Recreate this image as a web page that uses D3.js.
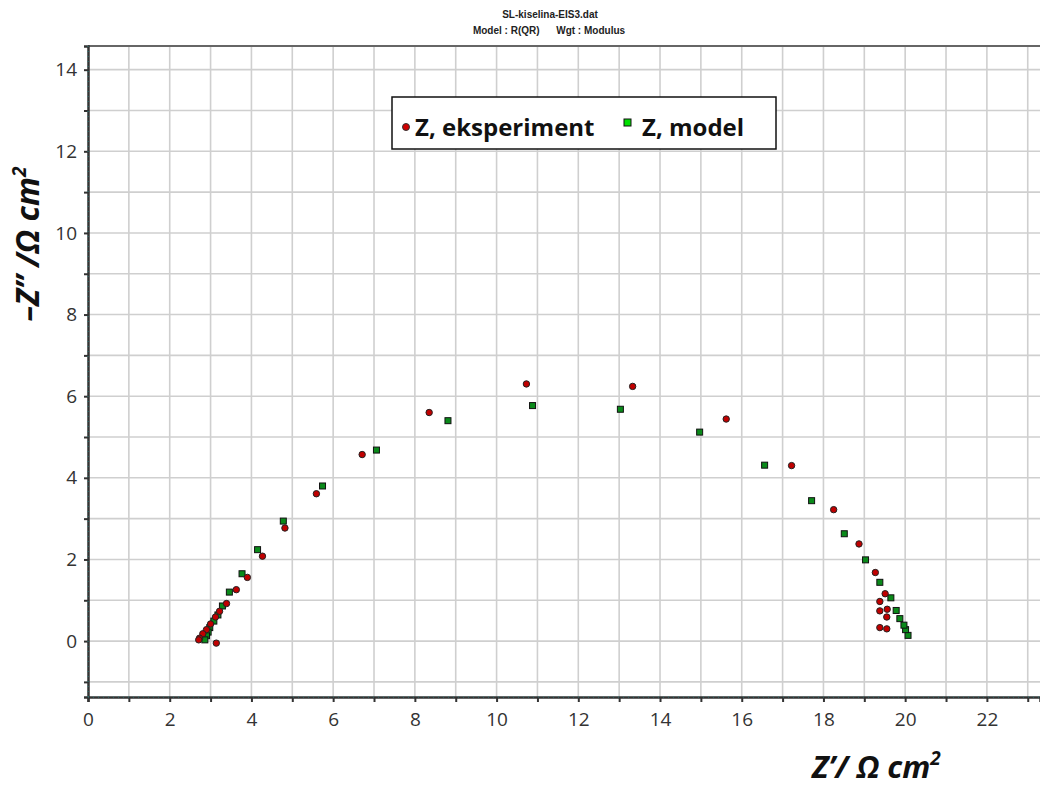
<!DOCTYPE html>
<html>
  <head>
    <meta charset="utf-8" />
    <title>SL-kiselina-EIS3</title>
    <script src="https://d3js.org/d3.v7.min.js"></script>
    <style>
        body{
            margin:0;
            background:#fff;
        }
        .tick text{
            font-family: "Open Sans", sans-serif;
            font-size:19px;
            fill:#333;
        }
    </style>
  </head>
  <body>
    <svg id="chart"></svg>

    <script>
      // Z' , -Z'' pairs
      var experiment = [
        [19.38,0.33],[19.55,0.30],[19.55,0.59],[19.38,0.74],[19.56,0.78],[19.38,0.97],
        [19.51,1.16],[19.27,1.68],[18.87,2.38],[18.25,3.22],[17.22,4.30],[15.62,5.44],
        [13.33,6.24],[10.73,6.30],[8.35,5.60],[6.71,4.57],[5.59,3.61],[4.82,2.77],
        [4.27,2.08],[3.90,1.56],[3.63,1.26],[3.39,0.92],[3.22,0.73],[3.12,0.59],
        [3.00,0.42],[2.90,0.28],[2.81,0.18],[2.73,0.07],[2.71,0.03],[3.14,-0.05]
      ];
      var model = [
        [20.07,0.14],[20.01,0.28],[19.97,0.39],[19.87,0.55],[19.78,0.75],[19.65,1.06],
        [19.38,1.44],[19.03,1.99],[18.51,2.63],[17.71,3.44],[16.56,4.31],[14.97,5.12],
        [13.03,5.68],[10.88,5.77],[8.81,5.40],[7.06,4.68],[5.74,3.80],[4.78,2.94],
        [4.15,2.24],[3.77,1.65],[3.46,1.20],[3.29,0.86],[3.18,0.64],[3.08,0.49],
        [2.98,0.33],[2.94,0.22],[2.90,0.13],[2.86,0.03]
      ];
      var xTicks = d3.range(0, 24, 2);
      var yTicks = d3.range(0, 15, 2);
      var xGrid = d3.range(0, 24, 1);
      var yGrid = d3.range(-1, 15, 1);

      var width = 1040, height = 786;
      var plotLeft = 88, plotTop = 46, plotRight = 1040, plotBottom = 697;

      var svg = d3.select("#chart")
        .attr("width", width)
        .attr("height", height);

      var x = d3.scaleLinear().domain([0, 23.3]).range([plotLeft, plotRight]);
      var y = d3.scaleLinear().domain([-1.37, 14.58]).range([plotBottom, plotTop]);

      // grid
      svg.append("g")
        .selectAll("line")
        .data(xGrid.filter(function(d){ return d > 0; }))
        .enter().append("line")
        .attr("x1", function(d){ return x(d); })
        .attr("x2", function(d){ return x(d); })
        .attr("y1", plotTop).attr("y2", plotBottom)
        .attr("stroke", "#cfcfcf").attr("stroke-width", 1.6);

      svg.append("g")
        .selectAll("line")
        .data(yGrid)
        .enter().append("line")
        .attr("y1", function(d){ return y(d); })
        .attr("y2", function(d){ return y(d); })
        .attr("x1", plotLeft).attr("x2", plotRight)
        .attr("stroke", "#cfcfcf").attr("stroke-width", 1.6);

      // top border
      svg.append("line")
        .attr("x1", plotLeft).attr("x2", plotRight)
        .attr("y1", plotTop).attr("y2", plotTop)
        .attr("stroke", "#666").attr("stroke-width", 2);

      // axes
      var xAxis = d3.axisBottom(x)
        .tickValues(xGrid)
        .tickSize(5)
        .tickFormat(function(d){ return xTicks.indexOf(d) >= 0 ? d : ""; });
      var gx = svg.append("g")
        .attr("transform", "translate(0," + plotBottom + ")")
        .call(xAxis);
      gx.select(".domain").attr("stroke", "#333").attr("stroke-width", 2.5);
      gx.selectAll(".tick line").attr("stroke", "#333").attr("stroke-width", 2);
      gx.selectAll(".tick text").attr("dy", "1.12em");

      var yAxis = d3.axisLeft(y)
        .tickValues(yGrid)
        .tickSize(4)
        .tickFormat(function(d){ return yTicks.indexOf(d) >= 0 ? d : ""; });
      var gy = svg.append("g")
        .attr("transform", "translate(" + plotLeft + ",0)")
        .call(yAxis);
      gy.select(".domain").attr("stroke", "#333").attr("stroke-width", 2.5);
      gy.selectAll(".tick line").attr("stroke", "#333").attr("stroke-width", 2);
      gy.selectAll(".tick text").attr("x", -11);

      // dotted teal overlay on axis lines
      svg.append("line")
        .attr("x1", plotLeft).attr("x2", plotRight).attr("y1", plotBottom).attr("y2", plotBottom)
        .attr("stroke", "#2f8080").attr("stroke-width", 1).attr("stroke-dasharray", "1,4");
      svg.append("line")
        .attr("x1", plotLeft).attr("x2", plotLeft).attr("y1", plotTop).attr("y2", plotBottom)
        .attr("stroke", "#2f8080").attr("stroke-width", 1).attr("stroke-dasharray", "1,4");

      // model points (green squares)
      svg.append("g")
        .selectAll("rect")
        .data(model)
        .enter().append("rect")
        .attr("x", function(d){ return x(d[0]) - 3; })
        .attr("y", function(d){ return y(d[1]) - 3; })
        .attr("width", 6).attr("height", 6)
        .attr("fill", "#0a8a1a")
        .attr("stroke", "#111").attr("stroke-width", 1);

      // experiment points (red circles)
      svg.append("g")
        .selectAll("circle")
        .data(experiment)
        .enter().append("circle")
        .attr("cx", function(d){ return x(d[0]); })
        .attr("cy", function(d){ return y(d[1]); })
        .attr("r", 3.2)
        .attr("fill", "#c00000")
        .attr("stroke", "#222").attr("stroke-width", 1);

      // title
      svg.append("text")
        .attr("x", 550).attr("y", 18)
        .attr("text-anchor", "middle")
        .style("font-family", "Liberation Sans, Arial, sans-serif")
        .style("font-size", "10px").style("font-weight", "bold").style("fill", "#222")
        .text("SL-kiselina-EIS3.dat");
      svg.append("text")
        .attr("x", 549).attr("y", 34)
        .attr("text-anchor", "middle")
        .attr("xml:space", "preserve")
        .style("white-space", "pre")
        .style("font-family", "Liberation Sans, Arial, sans-serif")
        .style("font-size", "10px").style("font-weight", "bold").style("fill", "#222")
        .text("Model : R(QR)      Wgt : Modulus");

      // legend
      var lg = svg.append("g");
      lg.append("rect")
        .attr("x", 392).attr("y", 97).attr("width", 384).attr("height", 52)
        .attr("fill", "#fff").attr("stroke", "#111").attr("stroke-width", 1.5);
      lg.append("circle")
        .attr("cx", 406).attr("cy", 127).attr("r", 3.5)
        .attr("fill", "#d00000").attr("stroke", "#333").attr("stroke-width", 1);
      lg.append("text")
        .attr("x", 415).attr("y", 136)
        .style("font-family", "Open Sans, sans-serif")
        .style("font-size", "24px").style("font-weight", "bold").style("fill", "#111")
        .text("Z, eksperiment");
      lg.append("rect")
        .attr("x", 624).attr("y", 119).attr("width", 7).attr("height", 7)
        .attr("fill", "#00e000").attr("stroke", "#111").attr("stroke-width", 1);
      lg.append("text")
        .attr("x", 642).attr("y", 136)
        .style("font-family", "Open Sans, sans-serif")
        .style("font-size", "24px").style("font-weight", "bold").style("fill", "#111")
        .text("Z, model");

      // axis titles
      var xt = svg.append("text")
        .attr("x", 812).attr("y", 778)
        .style("font-family", "Open Sans, sans-serif")
        .style("font-size", "31px").style("font-weight", "bold").style("font-style", "italic")
        .style("fill", "#111");
      xt.append("tspan").text("Z\u2019/ \u03A9 cm");
      xt.append("tspan").attr("dy", -13).style("font-size", "19px").text("2");

      var yt = svg.append("text")
        .attr("transform", "translate(39,244) rotate(-90)")
        .attr("text-anchor", "middle")
        .attr("xml:space", "preserve")
        .style("white-space", "pre")
        .style("font-family", "Open Sans, sans-serif")
        .style("font-size", "32px").style("font-weight", "bold").style("font-style", "italic")
        .style("fill", "#111");
      yt.append("tspan").text("\u2013Z\u2019\u2019 /\u03A9 cm");
      yt.append("tspan").attr("dy", -13).style("font-size", "19px").text("2");
    </script>
  </body>
</html>
